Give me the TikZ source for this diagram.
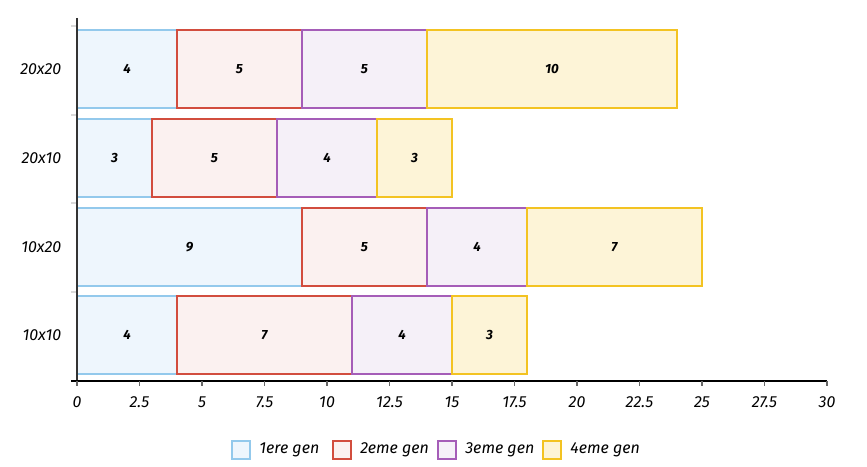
\documentclass[tikz,border=0pt]{standalone}
\usepackage{fontspec}
\setmainfont{Fira Sans}
\usetikzlibrary{positioning}
\definecolor{gen1line}{HTML}{93C9EC}
\definecolor{gen1fill}{HTML}{EEF6FD}
\definecolor{gen2line}{HTML}{D24D3E}
\definecolor{gen2fill}{HTML}{FBF1F0}
\definecolor{gen3line}{HTML}{A55DB8}
\definecolor{gen3fill}{HTML}{F5F0F8}
\definecolor{gen4line}{HTML}{F3C322}
\definecolor{gen4fill}{HTML}{FDF4D7}
\definecolor{axisgray}{HTML}{333333}
\tikzset{
  bar/.style={draw, line width=1.1pt, minimum width=#1*18.75pt, minimum height=58.5pt,
    inner sep=0pt, outer sep=0pt, font=\normalsize\bfseries\itshape},
  gen1/.style={bar=#1, draw=gen1line, fill=gen1fill},
  gen2/.style={bar=#1, draw=gen2line, fill=gen2fill},
  gen3/.style={bar=#1, draw=gen3line, fill=gen3fill},
  gen4/.style={bar=#1, draw=gen4line, fill=gen4fill},
  catlabel/.style={anchor=east, font=\large\itshape},
  key/.style={draw, line width=1.6pt, minimum size=13.5pt, inner sep=0pt},
  keytext/.style={font=\large\itshape, inner sep=0pt}
}
\begin{document}
\begin{tikzpicture}[x=0.75pt, y=-0.75pt] % one unit = one pixel of the reference
\useasboundingbox (0,0) rectangle (867,467);
% category labels
\node[catlabel] (c1) at (66,69) {20x20};
\node[catlabel] (c2) at (66,158) {20x10};
\node[catlabel] (c3) at (66,247) {10x20};
\node[catlabel] (c4) at (66,335) {10x10};
% row 20x20
\node[gen1=4, anchor=west] (a1) at (77,69) {4};
\node[gen2=5, right=0pt of a1] (a2) {5};
\node[gen3=5, right=0pt of a2] (a3) {5};
\node[gen4=10, right=0pt of a3] (a4) {10};
% row 20x10
\node[gen1=3, anchor=west] (b1) at (77,158) {3};
\node[gen2=5, right=0pt of b1] (b2) {5};
\node[gen3=4, right=0pt of b2] (b3) {4};
\node[gen4=3, right=0pt of b3] (b4) {3};
% row 10x20
\node[gen1=9, anchor=west] (d1) at (77,247) {9};
\node[gen2=5, right=0pt of d1] (d2) {5};
\node[gen3=4, right=0pt of d2] (d3) {4};
\node[gen4=7, right=0pt of d3] (d4) {7};
% row 10x10
\node[gen1=4, anchor=west] (e1) at (77,335) {4};
\node[gen2=7, right=0pt of e1] (e2) {7};
\node[gen3=4, right=0pt of e2] (e3) {4};
\node[gen4=3, right=0pt of e3] (e4) {3};
% axes
\draw[black!15, line width=0.8pt] (71,26) -- (77,26) (71,115) -- (77,115)
  (71,203) -- (77,203) (71,292) -- (77,292);
\draw[axisgray, line width=1.2pt] (77,18) -- (77,386); % y axis
\draw[black, line width=1.2pt] (71,381) -- (827,381); % x axis
\foreach \k/\v in {0/0,1/2.5,2/5,3/7.5,4/10,5/12.5,6/15,7/17.5,8/20,9/22.5,10/25,11/27.5,12/30}
  \draw[black!60, line width=0.8pt] (77+62.5*\k,381) -- (77+62.5*\k,386)
    node[below=4pt, black, font=\large\itshape] (x\k) {\v};
% legend
\node[key, draw=gen1line, fill=gen1fill] (k1) at (241,450) {};
\node[keytext, right=6pt of k1] (l1) {1ere gen};
\node[key, draw=gen2line, fill=gen2fill] (k2) at (342,450) {};
\node[keytext, right=6pt of k2] (l2) {2eme gen};
\node[key, draw=gen3line, fill=gen3fill] (k3) at (447,450) {};
\node[keytext, right=6pt of k3] (l3) {3eme gen};
\node[key, draw=gen4line, fill=gen4fill] (k4) at (552,450) {};
\node[keytext, right=6pt of k4] (l4) {4eme gen};
\end{tikzpicture}
\end{document}
